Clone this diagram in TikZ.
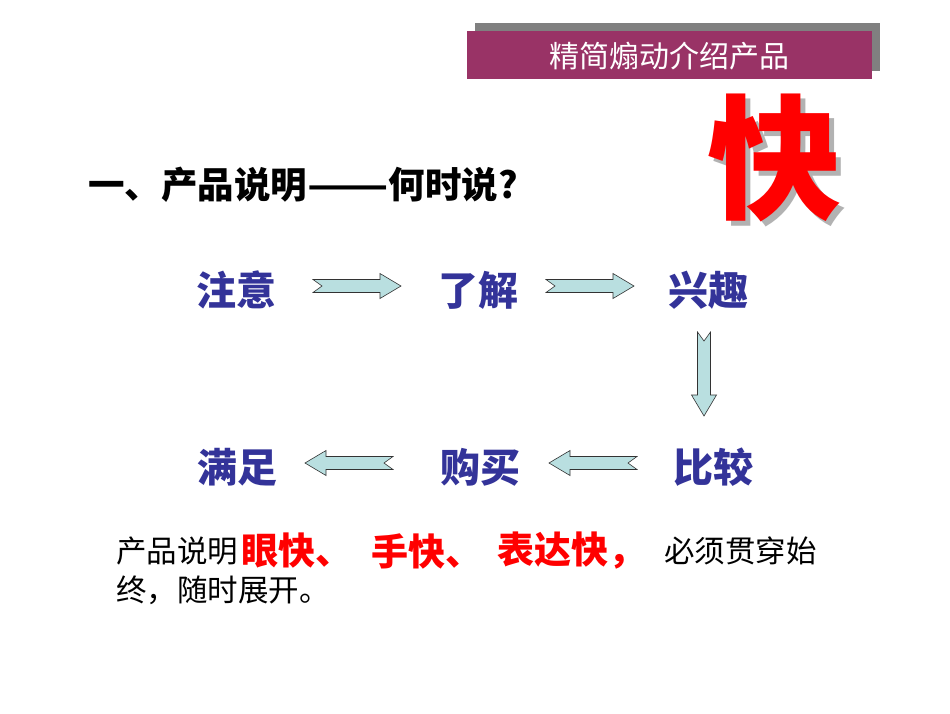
\documentclass[tikz,border=0pt]{standalone}
\usepackage{fontspec}
\usepackage{graphicx}
\newfontfamily\cjk{Noto Sans CJK SC}
\definecolor{barmag}{HTML}{993366}
\definecolor{bargray}{HTML}{808080}
\definecolor{wordblue}{HTML}{333399}
\definecolor{arrowfill}{HTML}{B9DFE0}
\definecolor{kuaired}{HTML}{FF0000}
\tikzset{
  word/.style={font=\cjk\bfseries\fontsize{40}{44}\selectfont, text=wordblue, inner sep=0pt},
  body/.style={font=\cjk\fontsize{30.5}{34}\selectfont, text=black, inner sep=0pt, anchor=west},
  redbody/.style={font=\cjk\bfseries\fontsize{37}{40}\selectfont, text=red, inner sep=0pt, anchor=west},
  arrowstyle/.style={fill=arrowfill, draw=black!80, line width=0.6pt, line join=miter},
  pics/blockarrow/.style={code={
    \path[arrowstyle] (-#1/2,-6.5) -- (#1/2-21,-6.5) -- (#1/2-21,-12.5) -- (#1/2,0)
      -- (#1/2-21,12.5) -- (#1/2-21,6.5) -- (-#1/2,6.5) -- (-#1/2+9,0) -- cycle;
  }}
}
\begin{document}
\begin{tikzpicture}[x=1pt,y=-1pt]
\useasboundingbox[fill=white] (0,0) rectangle (950,713);
% title bar
\fill[bargray] (475,23) rectangle (880,71);
\fill[barmag] (467,31) rectangle (872,79);
\node[font=\cjk\fontsize{30}{34}\selectfont, text=white] (title) at (669,56) {精简煽动介绍产品};
% big character with its shadow
\node[font=\cjk\bfseries\fontsize{134}{136}\selectfont, text=kuaired, inner sep=0pt] (kuai) at (774,160)
  {\makebox[0pt][l]{\hspace{5pt}\raisebox{-5pt}{\color{black!30}快}}快};
% heading
\node[font=\cjk\bfseries\fontsize{36.5}{40}\selectfont, anchor=west, inner sep=0pt] (heading) at (88,185)
  {一、产品说明\scalebox{1.3}[1]{——}何时说?};
% words
\node[word] (a) at (236,290) {注意};
\node[word] (b) at (478,290) {了解};
\node[word] (c) at (708,290) {兴趣};
\node[word] (d) at (713,467) {比较};
\node[word] (e) at (480,467) {购买};
\node[word] (f) at (237,467) {满足};
% block arrows
\pic at (357,286) {blockarrow=88};
\pic at (590,286) {blockarrow=88};
\pic[rotate=-90] at (704,374) {blockarrow=84};
\pic[rotate=180] at (593,463) {blockarrow=88};
\pic[rotate=180] at (349,463) {blockarrow=88};
% body text
\node[body] (t1) at (116,551) {产品说明};
\node[redbody] (t2) at (241,551) {眼快、};
\node[redbody] (t3) at (371,551) {手快、};
\node[redbody] (t4) at (497,551) {表达快，};
\node[body] (t5) at (664,551) {必须贯穿始};
\node[body] (t6) at (116,590) {终，随时展开。};
\end{tikzpicture}
\end{document}
